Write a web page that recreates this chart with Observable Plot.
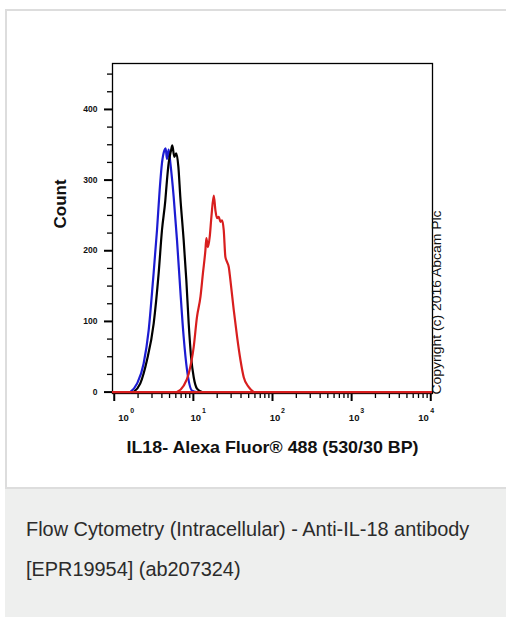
<!DOCTYPE html>
<html>
<head>
<meta charset="utf-8">
<script src="https://cdn.jsdelivr.net/npm/d3@7"></script>
<script src="https://cdn.jsdelivr.net/npm/@observablehq/plot@0.6"></script>
<style>
  html, body { margin: 0; padding: 0; background: #fff; width: 506px; height: 617px; overflow: hidden; }
  #card { position: absolute; left: 5px; top: 9px; width: 520px; height: 476px; border: 2px solid #dddddd; background: #fff; }
  #chart { position: absolute; left: 0; top: 0; }
  #caption { position: absolute; left: 5px; top: 489px; width: 520px; height: 140px; background: #eeefee;
    box-sizing: border-box; padding: 20px 0 0 21px; font-family: "Liberation Sans", Arial, sans-serif;
    font-size: 19.9px; line-height: 40px; color: #2b2b2b; }
</style>
</head>
<body>
<div id="card"></div>
<div id="chart"></div>
<div id="caption">Flow Cytometry (Intracellular) - Anti-IL-18 antibody<br>[EPR19954] (ab207324)</div>
<script>
// Histogram data (fluorescence intensity, count)
const blueX  = [1.59, 1.94, 2.35, 2.72, 3.09, 3.47, 3.75, 4.01, 4.30, 4.46, 4.64, 4.87, 5.11, 5.64, 6.21, 6.84, 7.54, 8.32, 9.62, 11.1];
const blueY  = [0, 12, 40, 87, 158, 229, 286, 324, 342, 345, 330, 343, 325, 276, 215, 144, 78, 31, 2, 0];
const blackX = [1.75, 2.13, 2.59, 3.15, 3.64, 4.01, 4.42, 4.64, 4.87, 5.22, 5.42, 5.74, 6.09, 6.46, 6.84, 7.54, 8.15, 8.73, 9.35, 10.1, 11.1, 12.9];
const blackY = [0, 12, 45, 97, 168, 229, 271, 300, 324, 342, 349, 333, 338, 319, 276, 215, 158, 97, 50, 21, 5, 0];
const redX   = [6.21, 7.54, 8.73, 10.1, 11.1, 12.3, 13.2, 14.2, 14.6, 15.3, 16.1, 16.9, 18.1, 19.0, 19.9, 20.9, 22.0, 23.1, 24.2, 25.4, 26.7, 28.0, 29.4, 32.4, 35.7, 39.4, 43.3, 50.1, 58.0];
const redY   = [0, 9, 26, 64, 106, 135, 168, 201, 218, 205, 220, 248, 278, 257, 246, 248, 241, 243, 229, 191, 184, 177, 158, 116, 78, 45, 21, 7, 0];

const yMajor = [0, 100, 200, 300, 400];
const yMinor = [25, 50, 75, 125, 150, 175, 225, 250, 275, 325, 350, 375, 425, 450];
const xMajor = [1, 10, 100, 1000, 10000];
const xExp   = ["0", "1", "2", "3", "4"];
const xMinor = [2,3,4,5,6,7,8,9, 20,30,40,50,60,70,80,90, 200,300,400,500,600,700,800,900, 2000,3000,4000,5000,6000,7000,8000,9000];

const yLabel = "Count";
const xLabel = "IL18- Alexa Fluor® 488 (530/30 BP)";
const copyright = "Copyright (c) 2016 Abcam Plc";

const toRows = (xs, ys, s) => xs.map((x, i) => ({x, count: ys[i], series: s}));
const blue = toRows(blueX, blueY, "blue");
const black = toRows(blackX, blackY, "black");
const red = toRows(redX, redY, "red");

const ticks = xMajor.map((d, i) => ({v: d, e: xExp[i]}));
const first = ticks.slice(0, 1), middle = ticks.slice(1, 4), last = ticks.slice(4);
const tickFont = {fontSize: 9.5, fontWeight: "bold", fill: "#111"};
const expFont = {fontSize: 7, fontWeight: "bold", fill: "#111"};
const lineOpts = {x: "x", y: "count", strokeWidth: 2.2, curve: "monotone-x"};

const chart = Plot.plot({
  width: 506,
  height: 480,
  marginLeft: 112,
  marginRight: 74,
  marginTop: 63,
  marginBottom: 87,
  style: {fontFamily: "'Liberation Sans', Arial, sans-serif", background: "transparent"},
  x: {type: "log", domain: [Math.pow(10, -0.022), Math.pow(10, 4.022)]},
  y: {domain: [-2, 465]},
  marks: [
    Plot.frame({stroke: "#000", strokeWidth: 1.3}),
    Plot.axisY(yMajor, {tickSize: 8, tickPadding: 7, strokeWidth: 2, fontSize: 8.5, fontWeight: "bold", label: null, fill: "#111"}),
    Plot.axisY(yMinor, {tickSize: 5, strokeWidth: 1.3, tickFormat: () => "", label: null}),
    Plot.axisX(xMajor, {tickSize: 8, strokeWidth: 2, tickFormat: () => "", label: null}),
    Plot.axisX(xMinor, {tickSize: 5, strokeWidth: 1.3, tickFormat: () => "", label: null}),
    Plot.line(blue, {...lineOpts, stroke: "#1c1cd2"}),
    Plot.line(black, {...lineOpts, stroke: "#000"}),
    Plot.ruleY([0], {stroke: "#d81e1e", strokeWidth: 2.2}),
    Plot.line(red, {...lineOpts, stroke: "#d81e1e"}),
    // decade tick labels 10^k
    Plot.text(first, {x: "v", text: () => "10", frameAnchor: "bottom", dy: 27, dx: 4, textAnchor: "start", ...tickFont}),
    Plot.text(first, {x: "v", text: "e", frameAnchor: "bottom", dy: 19, dx: 18, ...expFont}),
    Plot.text(middle, {x: "v", text: () => "10", frameAnchor: "bottom", dy: 27, dx: 2.5, ...tickFont}),
    Plot.text(middle, {x: "v", text: "e", frameAnchor: "bottom", dy: 19, dx: 10.5, ...expFont}),
    Plot.text(last, {x: "v", text: () => "10", frameAnchor: "bottom", dy: 27, dx: -2, textAnchor: "end", ...tickFont}),
    Plot.text(last, {x: "v", text: "e", frameAnchor: "bottom", dy: 19, dx: 1.5, ...expFont}),
    // axis titles
    Plot.text([yLabel], {frameAnchor: "left", rotate: -90, dx: -52, fontSize: 17, fontWeight: "bold", fill: "#111"}),
    Plot.text([xLabel], {frameAnchor: "bottom", dy: 59, fontSize: 16.5, fontWeight: "bold", fill: "#111"}),
    Plot.text([copyright], {frameAnchor: "bottom-right", rotate: -90, dx: 8, dy: 1, textAnchor: "start", fontSize: 12, fill: "#111"})
  ]
});

d3.select(chart).selectAll("text").each(function() {
  const t = d3.select(this);
  if (t.text() === copyright) t.attr("textLength", 184).attr("lengthAdjust", "spacingAndGlyphs");
  if (t.text() === xLabel) t.attr("textLength", 292).attr("lengthAdjust", "spacingAndGlyphs");
});

document.getElementById("chart").appendChild(chart);
</script>
</body>
</html>
